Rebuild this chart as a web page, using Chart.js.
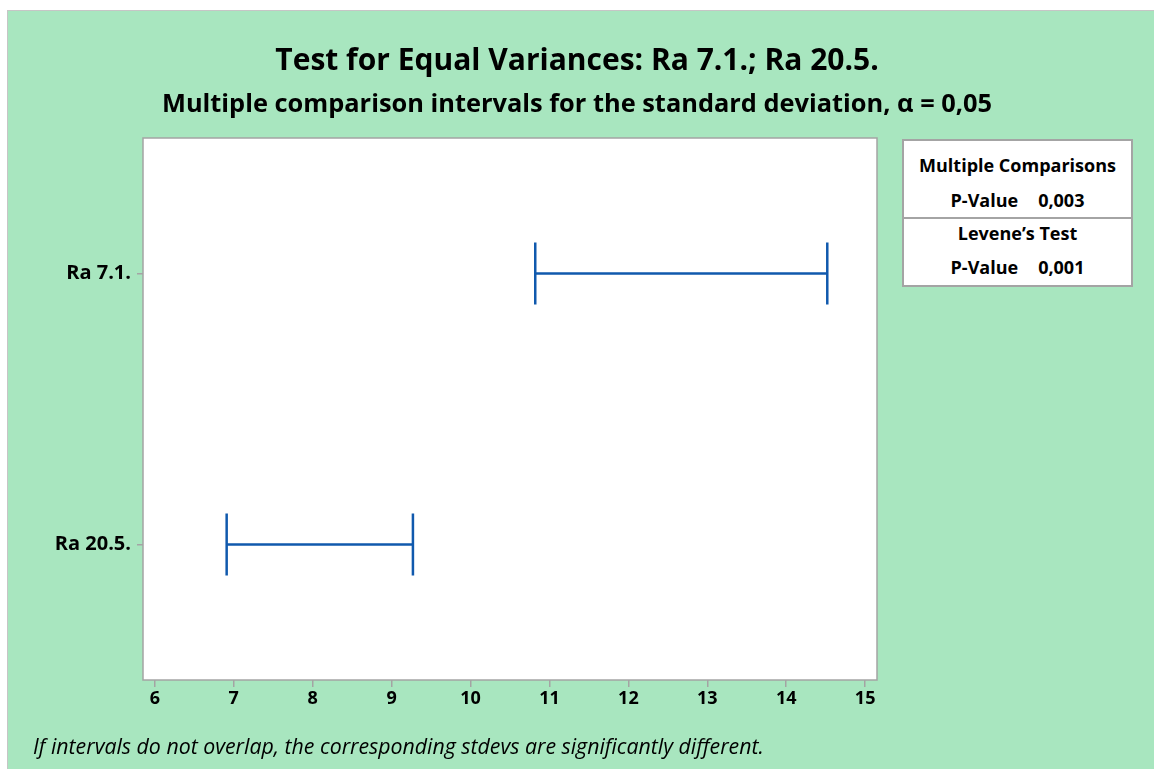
<!DOCTYPE html>
<html>
<head>
<meta charset="utf-8">
<title>Test for Equal Variances</title>
<script src="https://cdn.jsdelivr.net/npm/chart.js@4.4.1/dist/chart.umd.min.js"></script>
<style>
    body { margin: 0; background: #ffffff; font-family: "Open Sans", sans-serif; }
    #page { position: absolute; left: 7px; top: 10px; width: 1147px; height: 759px; background: #a8e6bf;
            border-left: 1px solid #c6c6c6; border-top: 1px solid #c6c6c6; }
    #myChart { position: absolute; left: 0; top: 0; }
    .title { position: absolute; left: 0; width: 1154px; text-align: center; font-weight: bold; color: #000; white-space: nowrap; }
    #mainTitle { top: 39px; font-size: 30px; line-height: 40px; }
    #subTitle { top: 86px; font-size: 25.4px; line-height: 32px; }
    #stats { position: absolute; left: 902px; top: 139px; width: 227px; height: 144px; background: #fff;
             border: 2px solid #a4a4a4; font-weight: bold; font-size: 18px; color: #000; }
    #stats div { position: absolute; left: 0; width: 100%; text-align: center; line-height: 26px; white-space: nowrap; }
    #stats .sep { height: 0; border-top: 2px solid #a4a4a4; }
    #stats .num { margin-left: 20px; }
    #footnote { position: absolute; left: 33px; top: 732px; font-style: italic; font-size: 21.3px; line-height: 28px; color: #000; white-space: nowrap; }
</style>
</head>
<body>
<div id="page"></div>
<canvas id="myChart" width="1154" height="769"></canvas>
<div class="title" id="mainTitle"></div>
<div class="title" id="subTitle"></div>
<div id="stats">
    <div style="top: 11px;">Multiple Comparisons</div>
    <div style="top: 46px;">P-Value<span class="num" id="mcP"></span></div>
    <div class="sep" style="top: 76px;"></div>
    <div style="top: 79px;">Levene’s Test</div>
    <div style="top: 113px;">P-Value<span class="num" id="levP"></span></div>
</div>
<div id="footnote">If intervals do not overlap, the corresponding stdevs are significantly different.</div>

<script>
//Chart data
const groups = ['Ra 7.1.', 'Ra 20.5.'];
const lowerBounds = [10.82, 6.91];
const upperBounds = [14.52, 9.27];
const xTickValues = [6, 7, 8, 9, 10, 11, 12, 13, 14, 15];
const xMin = 5.85;
const xMax = 15.15;

//Texts
const chartTitle = 'Test for Equal Variances: Ra 7.1.; Ra 20.5.';
const chartSubtitle = 'Multiple comparison intervals for the standard deviation, α = 0,05';
const multipleComparisonsP = '0,003';
const leveneP = '0,001';

document.getElementById('mainTitle').textContent = chartTitle;
document.getElementById('subTitle').textContent = chartSubtitle;
document.getElementById('mcP').textContent = multipleComparisonsP;
document.getElementById('levP').textContent = leveneP;

const lineColor = '#1059ad';
const frameColor = '#a4a4a4';

//One line dataset per group, the caps are the points drawn as vertical lines
let datasets = groups.map(function(group, i) {
    return {
        label: group,
        data: [
            { x: lowerBounds[i], y: group },
            { x: upperBounds[i], y: group }
        ],
        borderColor: lineColor,
        borderWidth: 2.5,
        pointStyle: 'line',
        pointRotation: 90,
        pointRadius: 31,
        pointHoverRadius: 31,
        pointBorderColor: lineColor,
        pointBorderWidth: 2.5
    };
});

//White plot area with a grey frame
const plotFrame = {
    id: 'plotFrame',
    beforeDraw(chart) {
        const a = chart.chartArea;
        const ctx = chart.ctx;
        ctx.save();
        ctx.fillStyle = '#ffffff';
        ctx.fillRect(a.left, a.top, a.right - a.left, a.bottom - a.top);
        ctx.restore();
    },
    afterDraw(chart) {
        const a = chart.chartArea;
        const ctx = chart.ctx;
        ctx.save();
        ctx.strokeStyle = frameColor;
        ctx.lineWidth = 1.5;
        ctx.strokeRect(a.left, a.top, a.right - a.left, a.bottom - a.top);
        ctx.restore();
    }
};

const ctx = document.getElementById('myChart').getContext('2d');

const myChart = new Chart(ctx, {
    type: 'line',
    data: {
        datasets: datasets
    },
    options: {
        responsive: false,
        animation: false,
        events: [],
        layout: {
            padding: { left: 0, right: 277, top: 138, bottom: 0 }
        },
        plugins: {
            legend: { display: false },
            title: { display: false },
            tooltip: { enabled: false }
        },
        scales: {
            x: {
                type: 'linear',
                min: xMin,
                max: xMax,
                afterBuildTicks: function(scale) {
                    scale.ticks = xTickValues.map(function(v) { return { value: v }; });
                },
                afterFit: function(scale) {
                    scale.height = 89;
                },
                border: { display: false },
                grid: {
                    drawOnChartArea: false,
                    drawTicks: true,
                    tickLength: 7,
                    color: frameColor,
                    lineWidth: 1.5
                },
                ticks: {
                    color: '#000000',
                    padding: 1,
                    font: { family: 'Open Sans', size: 18, weight: 'bold' }
                }
            },
            y: {
                type: 'category',
                labels: groups,
                offset: true,
                afterFit: function(scale) {
                    scale.width = 143;
                },
                border: { display: false },
                grid: {
                    drawOnChartArea: false,
                    drawTicks: true,
                    tickLength: 6,
                    color: frameColor,
                    lineWidth: 1.5
                },
                ticks: {
                    color: '#000000',
                    padding: 6,
                    font: { family: 'Open Sans', size: 20, weight: 'bold' }
                }
            }
        }
    },
    plugins: [plotFrame]
});
</script>
</body>
</html>
